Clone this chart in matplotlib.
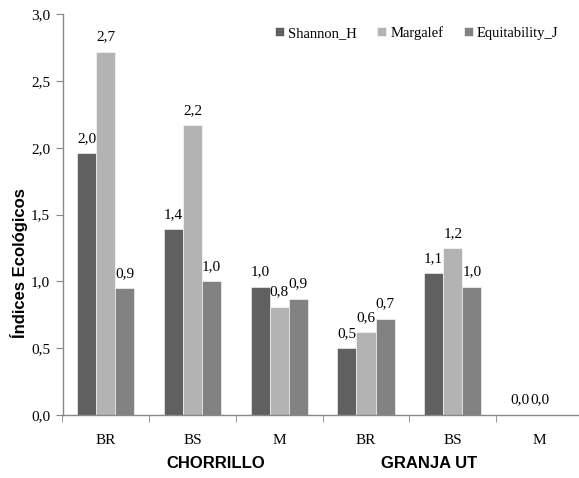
import numpy as np
import matplotlib
matplotlib.use("Agg")
import matplotlib.pyplot as plt

# Ecological indices per habitat and site
categories = ["BR", "BS", "M", "BR", "BS", "M"]
sites = ["CHORRILLO", "GRANJA UT"]
shannon_h = [1.96, 1.39, 0.96, 0.50, 1.06, 0.0]
margalef = [2.72, 2.17, 0.81, 0.62, 1.25, 0.0]
equitability_j = [0.95, 1.00, 0.87, 0.72, 0.96, np.nan]
series_names = ["Shannon_H", "Margalef", "Equitability_J"]
y_ticks = [0.0, 0.5, 1.0, 1.5, 2.0, 2.5, 3.0]

colors = ["#606060", "#b3b3b3", "#828282"]
serif = ["Liberation Serif", "DejaVu Serif"]
narrow_bold = ["Liberation Sans Narrow", "Liberation Sans", "DejaVu Sans"]
fs = 11

fig = plt.figure(figsize=(5.79, 4.78), dpi=100)
ax = fig.add_axes([62.5 / 579, 63 / 478, 516 / 579, 400.7 / 478])

x = np.arange(len(categories))
width = 0.22
offsets = [-width, 0.0, width]
all_series = [shannon_h, margalef, equitability_j]

handles = []
for vals, off, col, name in zip(all_series, offsets, colors, series_names):
    vals = np.asarray(vals, dtype=float)
    bars = ax.bar(x + off, vals, width, color=col, edgecolor="white",
                  linewidth=0.4, label=name)
    handles.append(bars)
    for xi, v in zip(x + off, vals):
        if np.isnan(v):
            continue
        ax.annotate(f"{v:.1f}".replace(".", ","), (xi, v),
                    xytext=(0, 6), textcoords="offset points",
                    ha="center", va="bottom", fontsize=fs,
                    family=serif)

ax.set_xlim(-0.5, 5.45)
ax.set_ylim(0, 3.0)
ax.set_yticks(y_ticks)
ax.set_yticklabels([f"{t:.1f}".replace(".", ",") for t in y_ticks],
                   family=serif, fontsize=fs)

ax.set_xticks(x)
ax.set_xticklabels(categories, family=serif, fontsize=fs)
ax.set_xticks(np.arange(-0.5, 5.0, 1.0), minor=True)
ax.tick_params(axis="x", which="major", length=0, pad=14)
ax.tick_params(axis="x", which="minor", length=5, color="#888888")
ax.tick_params(axis="y", length=5, color="#888888", pad=4)

for side in ("top", "right"):
    ax.spines[side].set_visible(False)
for side in ("left", "bottom"):
    ax.spines[side].set_color("#888888")
    ax.spines[side].set_linewidth(1.0)

ax.set_ylabel("Índices Ecológicos", family=narrow_bold, fontweight="bold",
              fontsize=12)
ax.yaxis.set_label_coords(-0.066, 0.38)

# site labels under the category labels
trans = ax.get_xaxis_transform()
ax.text(1.27, -0.12, sites[0], transform=trans, ha="center", va="center",
        family=narrow_bold, fontweight="bold", fontsize=12)
ax.text(3.73, -0.12, sites[1], transform=trans, ha="center", va="center",
        family=narrow_bold, fontweight="bold", fontsize=12)

fig.legend(handles, series_names, loc="center left",
           bbox_to_anchor=(262 / 579, 1 - 33 / 478), ncol=3, frameon=False,
           handlelength=0.6, handleheight=0.6, handletextpad=0.3,
           columnspacing=1.4, prop={"family": serif, "size": 10.5})

fig.savefig("out.png", dpi=100)
